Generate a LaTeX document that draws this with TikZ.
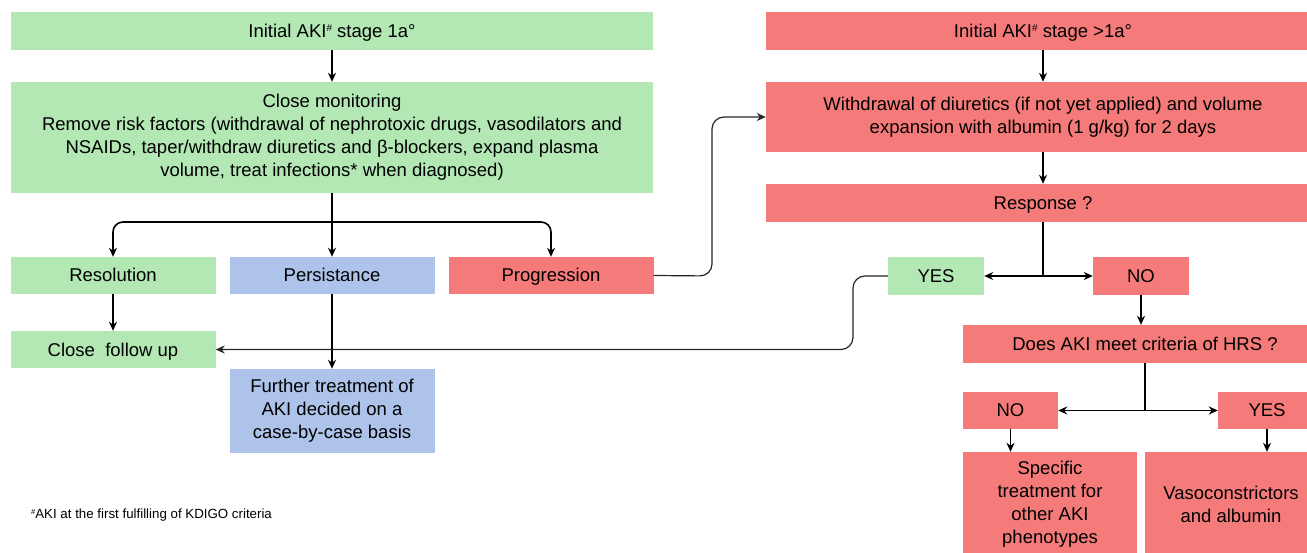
\documentclass[tikz,border=0pt]{standalone}
\usepackage{fontspec}
\setmainfont{Liberation Sans}
\usetikzlibrary{arrows.meta}
\definecolor{cgreen}{RGB}{179,231,180}
\definecolor{cred}{RGB}{245,123,122}
\definecolor{cblue}{RGB}{174,195,234}
\newcommand{\hsup}{{\raisebox{5.5pt}{\fontsize{10}{10}\selectfont\#}}}
\begin{document}
\begin{tikzpicture}[x=1pt,y=-1pt,
  box/.style={inner sep=0pt, align=center, font=\fontsize{18.5}{23}\selectfont},
  one/.style={text height=16pt, text depth=3pt},
  gbox/.style={box, fill=cgreen},
  rbox/.style={box, fill=cred},
  bbox/.style={box, fill=cblue},
  conn/.style={line width=1.6pt, black},
  arr/.style={conn, -{Stealth[length=9pt,width=8pt]}},
  thinarr/.style={line width=1.2pt, black!85, -{Stealth[length=9pt,width=8pt]}},
]
\useasboundingbox (0,0) rectangle (1307,553);
% left column
\node[gbox, one, minimum width=642pt, minimum height=38pt] (A) at (332,31) {Initial AKI\hsup\ stage 1a°};
\node[gbox, minimum width=642pt, minimum height=111pt] (B) at (332,137.5) {Close monitoring\\Remove risk factors (withdrawal of nephrotoxic drugs, vasodilators and\\NSAIDs, taper/withdraw diuretics and β-blockers, expand plasma\\volume, treat infections* when diagnosed)};
\node[gbox, one, minimum width=205pt, minimum height=37pt] (Res) at (113,275.5) {Resolution};
\node[bbox, one, minimum width=205pt, minimum height=37pt] (Per) at (332,275.5) {Persistance};
\node[rbox, one, minimum width=205pt, minimum height=37pt] (Prog) at (551,275.5) {Progression};
\node[gbox, one, minimum width=205pt, minimum height=37pt] (CFU) at (113,349.5) {Close\ \ follow up};
\node[bbox, minimum width=205pt, minimum height=84pt] (FT) at (332,411) {Further treatment of\\AKI decided on a\\case-by-case basis};
% right column
\node[rbox, one, minimum width=554pt, minimum height=38pt] (RA) at (1043,31) {Initial AKI\hsup\ stage >1a°};
\node[rbox, minimum width=554pt, minimum height=70pt] (W) at (1043,117) {Withdrawal of diuretics (if not yet applied) and volume\\expansion with albumin (1 g/kg) for 2 days};
\node[rbox, one, minimum width=554pt, minimum height=38pt] (R) at (1043,203) {Response ?};
\node[gbox, one, minimum width=96pt, minimum height=38pt] (Yes) at (936,276) {YES};
\node[rbox, one, minimum width=96pt, minimum height=38pt] (No) at (1141,276) {NO};
\node[rbox, one, minimum width=364pt, minimum height=38pt] (Does) at (1145,344) {Does AKI meet criteria of HRS ?};
\node[rbox, one, minimum width=95pt, minimum height=37pt] (No2) at (1010.5,410.5) {NO};
\node[rbox, one, minimum width=98pt, minimum height=37pt] (Yes2) at (1267,410.5) {YES};
\node[rbox, minimum width=174pt, minimum height=104pt] (Spec) at (1050,504) {Specific\\treatment for\\other AKI\\phenotypes};
\node[rbox, minimum width=172pt, minimum height=104pt] (Vaso) at (1231,504) {Vasoconstrictors\\and albumin};
% footnote
\node[anchor=base west, inner sep=0pt, font=\fontsize{13.3}{15}\selectfont] (fn) at (31,518) {{\raisebox{4pt}{\fontsize{7.5}{8}\selectfont\#}}AKI at the first fulfilling of KDIGO criteria};
% connectors
\coordinate (s1) at (333,222);
\coordinate (p1) at (712,276);
\coordinate (s2) at (1043,276);
\coordinate (y1) at (853,310);
\coordinate (s3) at (1145,410.5);
\draw[arr] (A.south) -- (B.north);
\draw[arr] (B.south) -- (Per.north);
\draw[arr, rounded corners=10pt] (s1) -| (Res.north);
\draw[arr, rounded corners=10pt] (s1) -| (Prog.north);
\draw[arr] (Res.south) -- (CFU.north);
\draw[arr] (Per.south) -- (FT.north);
\draw[thinarr, rounded corners=12pt] (Prog.east) -- (p1) |- (W.west);
\draw[arr] (RA.south) -- (W.north);
\draw[arr] (W.south) -- (R.north);
\draw[conn] (R.south) -- (s2);
\draw[arr] (s2) -- (Yes.east);
\draw[arr] (s2) -- (No.west);
\draw[thinarr, rounded corners=12pt] (Yes.west) -| (y1) |- (CFU.east);
\draw[arr] (No.south) -- (No.south |- Does.north);
\draw[conn] (Does.south) -- (s3);
\draw[arr] (s3) -- (No2.east);
\draw[arr] (s3) -- (Yes2.west);
\draw[arr] (No2.south) -- (No2.south |- Spec.north);
\draw[arr] (Yes2.south) -- (Yes2.south |- Vaso.north);
\end{tikzpicture}
\end{document}
